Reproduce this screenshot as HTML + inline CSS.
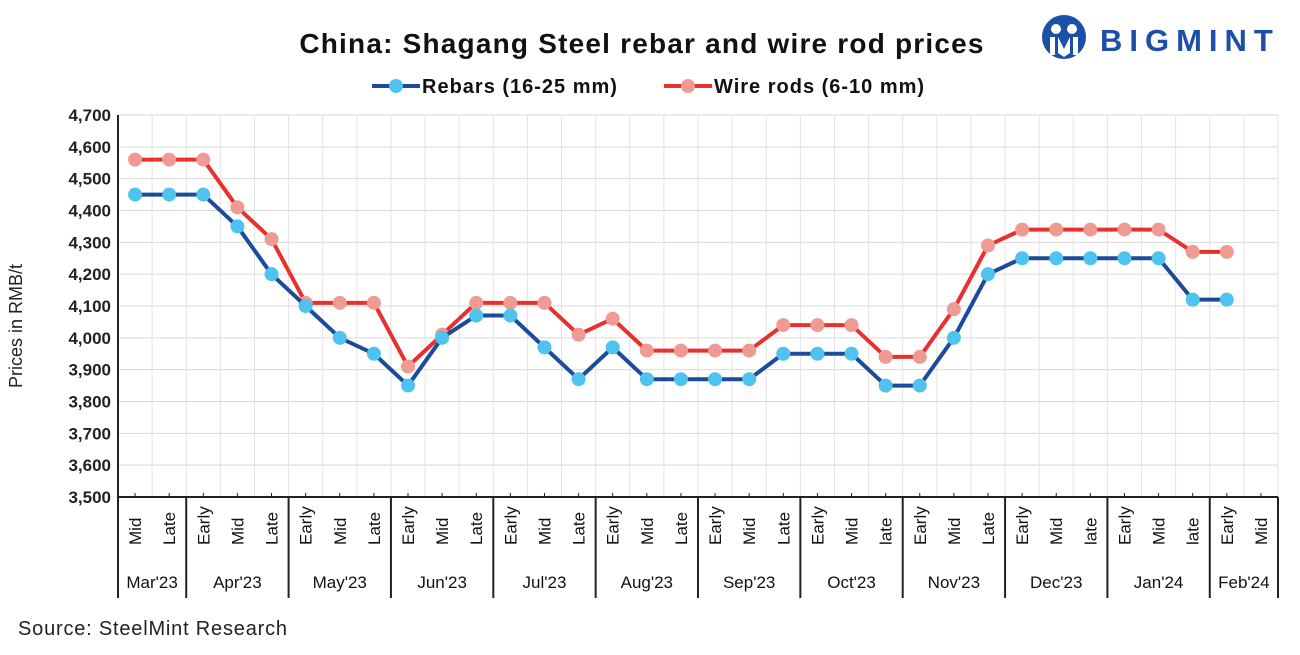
<!DOCTYPE html>
<html><head><meta charset="utf-8"><style>
body{margin:0;background:#fff;}
svg text{font-family:"Liberation Sans",sans-serif;}
</style></head><body>
<svg id="c" width="1300" height="650" xmlns="http://www.w3.org/2000/svg">
<text x="642" y="53" text-anchor="middle" font-size="28" font-weight="bold" fill="#111" letter-spacing="1.2">China: Shagang Steel rebar and wire rod prices</text>
<g>
<circle cx="1064" cy="37" r="22" fill="#1c4fa8"/>
<circle cx="1056" cy="29" r="5" fill="#fff"/><circle cx="1072" cy="29" r="5" fill="#fff"/>
<path d="M1050 37 h5 v18 h-5z M1073 37 h5 v18 h-5z M1058 37 l6 12 l6 -12 v16 l-6 4 l-6 -4z" fill="#fff"/>
<text x="1100" y="51" font-size="31" font-weight="bold" fill="#1c4fa8" letter-spacing="7">BIGMINT</text>
</g>
<g>
<line x1="372" y1="86" x2="420" y2="86" stroke="#1b4b9a" stroke-width="4"/><circle cx="396" cy="86" r="7" fill="#4fc3f0"/>
<text x="422" y="93" font-size="20" font-weight="bold" fill="#111" letter-spacing="1">Rebars (16-25 mm)</text>
<line x1="664" y1="86" x2="712" y2="86" stroke="#e8312f" stroke-width="4"/><circle cx="688" cy="86" r="7" fill="#ef9a92"/>
<text x="714" y="93" font-size="20" font-weight="bold" fill="#111" letter-spacing="1">Wire rods (6-10 mm)</text>
</g>
<text transform="translate(22,326) rotate(-90)" text-anchor="middle" font-size="18" fill="#222">Prices in RMB/t</text>
<g id="grid"></g><g id="axes"></g><g id="series"></g>
<text x="18" y="635" font-size="20" fill="#222" letter-spacing="0.8">Source: SteelMint Research</text>
</svg>
<script>
const subs=["Mid","Late","Early","Mid","Late","Early","Mid","Late","Early","Mid","Late","Early","Mid","Late","Early","Mid","Late","Early","Mid","Late","Early","Mid","late","Early","Mid","Late","Early","Mid","late","Early","Mid","late","Early","Mid"];
const months=["Mar'23","Apr'23","May'23","Jun'23","Jul'23","Aug'23","Sep'23","Oct'23","Nov'23","Dec'23","Jan'24","Feb'24"];
const monthSpans=[2,3,3,3,3,3,3,3,3,3,3,2];
const rebars=[4450,4450,4450,4350,4200,4100,4000,3950,3850,4000,4070,4070,3970,3870,3970,3870,3870,3870,3870,3950,3950,3950,3850,3850,4000,4200,4250,4250,4250,4250,4250,4120,4120];
const wireRods=[4560,4560,4560,4410,4310,4110,4110,4110,3910,4010,4110,4110,4110,4010,4060,3960,3960,3960,3960,4040,4040,4040,3940,3940,4090,4290,4340,4340,4340,4340,4340,4270,4270];
const yTicks=[3500,3600,3700,3800,3900,4000,4100,4200,4300,4400,4500,4600,4700];
const NS="http://www.w3.org/2000/svg";
const L=118,R=1278,T=115,B=497,yMin=3500,yMax=4700;
const bw=(R-L)/subs.length;
const x=i=>L+bw*(i+0.5);
const y=v=>B-(v-yMin)/(yMax-yMin)*(B-T);
function mk(tag,attrs,parent,txt){const e=document.createElementNS(NS,tag);for(const k in attrs)e.setAttribute(k,attrs[k]);if(txt!==undefined)e.textContent=txt;document.getElementById(parent).appendChild(e);return e;}
yTicks.forEach(v=>{
 const g=mk('line',{x1:L,x2:R,y1:y(v),y2:y(v),stroke:'#d9d9d9','stroke-width':1},'grid');
 
 
 const t=mk('text',{x:L-7,y:y(v)+6,'text-anchor':'end','font-size':17,'font-weight':'bold',fill:'#222'},'axes',v.toLocaleString('en-US'));
 
 
});
for(let i=0;i<=subs.length;i++){
 const g=mk('line',{x1:L+bw*i,x2:L+bw*i,y1:T,y2:B,stroke:'#e3e3e3','stroke-width':1},'grid');
 
 
}
subs.forEach((s,i)=>{
 const tk=mk('line',{x1:x(i),x2:x(i),y1:B-4,y2:B,stroke:'#222','stroke-width':1},'axes');
 
 
 const t=mk('text',{transform:`translate(${x(i)+6},${545}) rotate(-90)`,'font-size':17,fill:'#111'},'axes',s);
 
 
});
let acc=0;
const sep0=mk('line',{x1:L,x2:L,y1:T,y2:598,stroke:'#222','stroke-width':2},'axes');


months.forEach((m,k)=>{
 const cx=L+bw*(acc+monthSpans[k]/2);
 const t=mk('text',{x:cx,y:588,'text-anchor':'middle','font-size':17,fill:'#111'},'axes',m);
 
 
 acc+=monthSpans[k];
 const sx=L+bw*acc;
 const s=mk('line',{x1:sx,x2:sx,y1:B,y2:598,stroke:'#222','stroke-width':2},'axes');
 
 
});
const xa=mk('line',{x1:L,x2:R,y1:B,y2:B,stroke:'#222','stroke-width':2},'axes');


function series(vals,lc,pc,name){
 const p=mk('polyline',{points:vals.map((v,i)=>x(i)+','+y(v)).join(' '),fill:'none',stroke:lc,'stroke-width':4,'stroke-linejoin':'round'},'series');
 
 
 vals.forEach((v,i)=>{
  const c=mk('circle',{cx:x(i),cy:y(v),r:7,fill:pc},'series');
  
  
 });
}
series(wireRods,'#e8312f','#ef9a92','wire-rods');
series(rebars,'#1b4b9a','#4fc3f0','rebars');
</script>
</body></html>
